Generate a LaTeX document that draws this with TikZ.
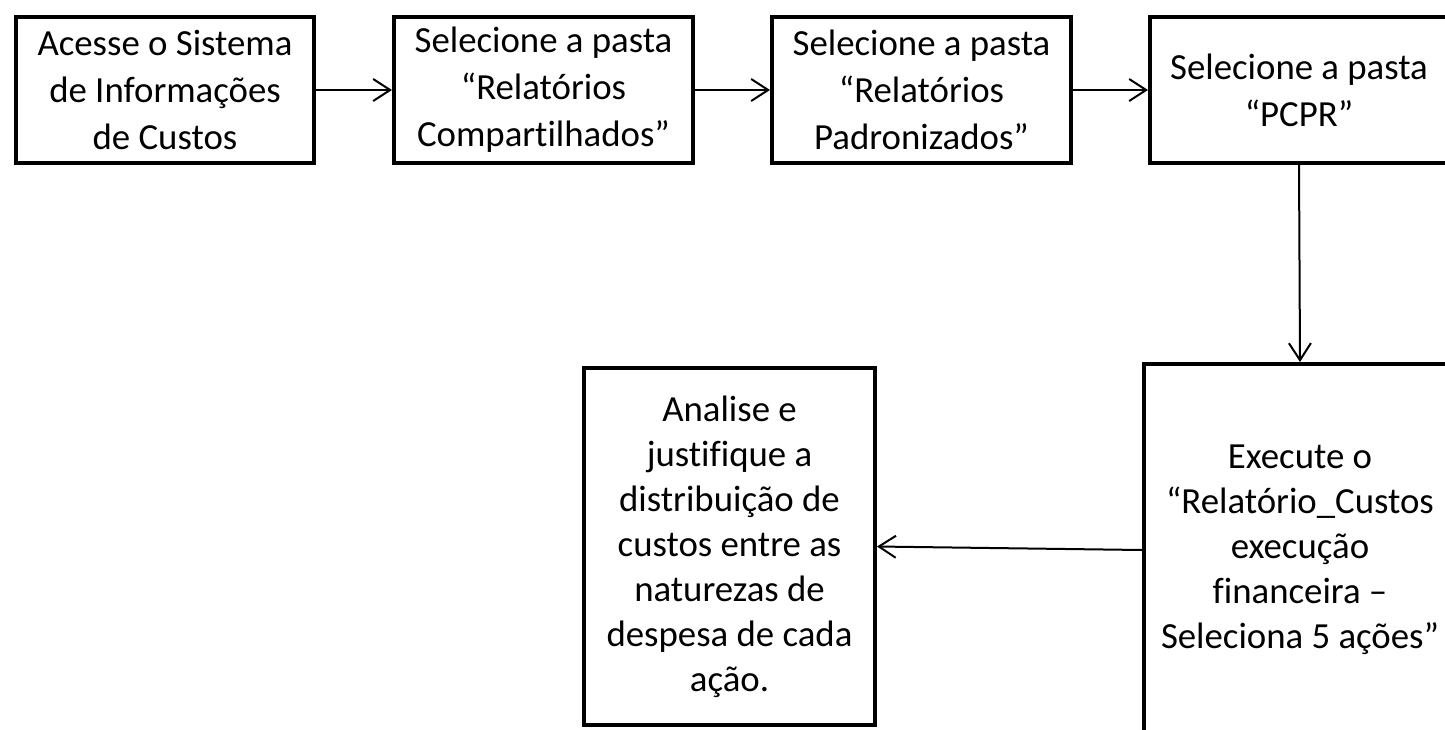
\documentclass[tikz,border=0pt]{standalone}
\usepackage{fontspec}
\setmainfont{Carlito}[Ligatures=NoCommon]
\usetikzlibrary{arrows.meta}
\tikzset{
  stepbox/.style={draw=black, line width=2pt, inner sep=0pt, align=center,
    font=\fontsize{18.4}{22.5}\selectfont},
  topbox/.style={stepbox, font=\fontsize{18.4}{23.5}\selectfont,
    minimum height=73pt},
  flow/.style={line width=1pt, -{Straight Barb[length=8.5pt,width=11pt,line width=1pt]}}
}
\begin{document}
\begin{tikzpicture}[x=0.5pt,y=-0.5pt]
\useasboundingbox (0,0) rectangle (1445,729);
\clip (0,0) rectangle (1445,729);
\fill[white] (0,0) rectangle (1445,729);
\node[topbox, minimum width=149pt] (b1) at (165,90)
  {Acesse o Sistema\\de Informações\\de Custos};
\node[topbox, minimum width=149.5pt] (b2) at (543.5,90)
  {Selecione a pasta\\“Relatórios\\Compartilhados”};
\node[topbox, minimum width=149.5pt] (b3) at (921.5,90)
  {Selecione a pasta\\“Relatórios\\Padronizados”};
\node[topbox, minimum width=149pt] (b4) at (1299,90)
  {Selecione a pasta\\“PCPR”};
\node[stepbox, minimum width=156pt, minimum height=186pt] (b5) at (1300,550)
  {Execute o\\“Relatório\_Custos\\execução\\financeira –\\Seleciona 5 ações”};
\node[stepbox, minimum width=145.5pt, minimum height=178.5pt] (b6) at (729.5,546.5)
  {Analise e\\justifique a\\distribuição de\\custos entre as\\naturezas de\\despesa de cada\\ação.};
\draw[flow] (b1) -- (b2);
\draw[flow] (b2) -- (b3);
\draw[flow] (b3) -- (b4);
\draw[flow] (b4.south) -- (b5.north);
\draw[flow] (b5.west) -- (b6.east);
\end{tikzpicture}
\end{document}
